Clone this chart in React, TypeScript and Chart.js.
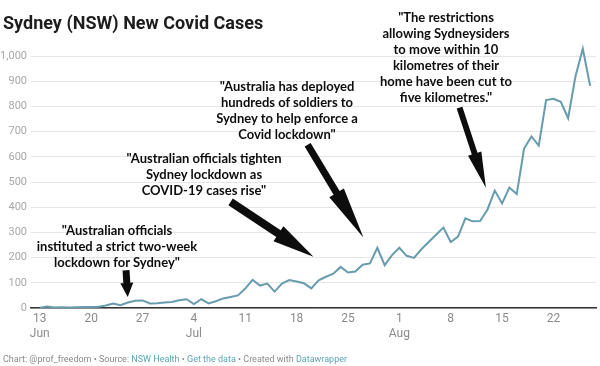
import React, { useEffect, useRef } from "react";
import { Chart, registerables } from "chart.js";

Chart.register(...registerables);

// Day 0 = 13 Jun 2021, one value per day up to 27 Aug
const firstDay = "2021-06-13";
const cases = [
  1, 6, 2, 3, 2, 3, 4, 4, 5, 10, 18, 11, 22, 29, 30, 18, 19, 22,
  24, 31, 35, 16, 35, 18, 27, 38, 44, 50, 77, 112, 89, 97, 65, 97, 111, 105,
  98, 78, 110, 124, 136, 163, 141, 145, 172, 177, 239, 170, 210,
  239, 207, 199, 233, 262, 291, 319, 262, 283, 356, 344, 345, 390, 466, 415,
  478, 452, 633, 681, 644, 825, 830, 818, 753, 919, 1029, 882,
];

const xTickDays = [0, 7, 14, 21, 28, 35, 42, 49, 56, 63, 70];
const xTickDayLabels = ["13", "20", "27", "4", "11", "18", "25", "1", "8", "15", "22"];
const xTickMonthLabels = ["Jun", "", "", "Jul", "", "", "", "Aug", "", "", ""];
const yTickValues = [0, 100, 200, 300, 400, 500, 600, 700, 800, 900, 1000];

const annotationTexts = [
  ['"Australian officials', "instituted a strict two-week", 'lockdown for Sydney"'],
  ['"Australian officials tighten', "Sydney lockdown as", 'COVID-19 cases rise"'],
  ['"Australia has deployed', "hundreds of soldiers to", "Sydney to help enforce a", 'Covid lockdown"'],
  ['"The restrictions', "allowing Sydneysiders", "to move within 10", "kilometres of their", "home have been cut to", 'five kilometres."'],
];
// anchor positions of the annotation blocks (centre x, top y) in pixels
const annotationPos = [
  [117, 222],
  [204, 150],
  [287, 78],
  [446, 9],
];
// arrows: tail and tip in (day, cases) chart coordinates
const arrowTails = [[11.75, 150], [26.0, 421], [36.5, 648], [57.2, 795]];
const arrowTips = [[11.98, 44], [37.3, 203], [44.1, 280], [60.8, 477]];
const arrowShaft = [7, 8, 7, 6];
const arrowHead = [13, 18, 17, 14];
const arrowHeadLen = [14, 42, 52, 36];

const arrowPlugin = {
  id: "arrows",
  afterDatasetsDraw(chart: any) {
    const { ctx, scales } = chart;
    const xs = scales.x;
    const ys = scales.y;
    ctx.save();
    ctx.fillStyle = "#0d0d0d";
    arrowTails.forEach((tail, i) => {
      const x0 = xs.getPixelForValue(tail[0]);
      const y0 = ys.getPixelForValue(tail[1]);
      const x1 = xs.getPixelForValue(arrowTips[i][0]);
      const y1 = ys.getPixelForValue(arrowTips[i][1]);
      const dx = x1 - x0;
      const dy = y1 - y0;
      const L = Math.hypot(dx, dy);
      const ux = dx / L;
      const uy = dy / L;
      const nx = -uy;
      const ny = ux;
      const hb = L - arrowHeadLen[i];
      const s = arrowShaft[i] / 2;
      const h = arrowHead[i] / 2;
      const bx = x0 + ux * hb;
      const by = y0 + uy * hb;
      ctx.beginPath();
      ctx.moveTo(x0 + nx * s, y0 + ny * s);
      ctx.lineTo(bx + nx * s, by + ny * s);
      ctx.lineTo(bx + nx * h, by + ny * h);
      ctx.lineTo(x1, y1);
      ctx.lineTo(bx - nx * h, by - ny * h);
      ctx.lineTo(bx - nx * s, by - ny * s);
      ctx.lineTo(x0 - nx * s, y0 - ny * s);
      ctx.closePath();
      ctx.fill();
    });
    ctx.restore();
  },
};

export default function App() {
  const canvasRef = useRef<HTMLCanvasElement | null>(null);

  useEffect(() => {
    document.body.style.margin = "0";
    const canvas = canvasRef.current;
    if (!canvas) return;
    const chart = new Chart(canvas, {
      type: "line",
      data: {
        datasets: [
          {
            label: "New cases from " + firstDay,
            data: cases.map((v, i) => ({ x: i, y: v })),
            borderColor: "#679cae",
            borderWidth: 2,
            pointRadius: 0,
            tension: 0,
            fill: false,
            clip: false as any,
          },
        ],
      },
      options: {
        animation: false,
        responsive: false,
        layout: { padding: { top: 56, left: 0, right: 4, bottom: 0 } },
        plugins: {
          legend: { display: false },
          tooltip: { enabled: false },
          title: { display: false },
        },
        scales: {
          x: {
            type: "linear",
            min: -1.2,
            max: 75.8,
            afterFit: (scale: any) => {
              scale.height = 58;
            },
            afterBuildTicks: (scale: any) => {
              scale.ticks = xTickDays.map((v) => ({ value: v }));
            },
            ticks: {
              autoSkip: false,
              maxRotation: 0,
              padding: 4,
              color: "#8a8a8a",
              font: { family: "Roboto", size: 12, lineHeight: 1.2 },
              callback: (value: any) => {
                const idx = xTickDays.indexOf(Number(value));
                if (idx < 0) return "";
                return xTickMonthLabels[idx]
                  ? [xTickDayLabels[idx], xTickMonthLabels[idx]]
                  : xTickDayLabels[idx];
              },
            },
            grid: { display: false, drawTicks: false },
            border: { display: true, color: "#333333", width: 1.5 },
          },
          y: {
            type: "linear",
            min: 0,
            max: 1000,
            afterFit: (scale: any) => {
              scale.width = 31;
            },
            afterBuildTicks: (scale: any) => {
              scale.ticks = yTickValues.map((v) => ({ value: v }));
            },
            ticks: {
              padding: 4,
              color: "#a8a8a8",
              font: { family: "Roboto", size: 11 },
              callback: (value: any) => Number(value).toLocaleString("en-US"),
            },
            grid: { color: "#e6e6e6", lineWidth: 1, drawTicks: false },
            border: { display: false },
          },
        },
      },
      plugins: [arrowPlugin],
    });
    return () => chart.destroy();
  }, []);

  return (
    <div
      style={{
        position: "relative",
        width: 600,
        height: 366,
        background: "#ffffff",
        overflow: "hidden",
        fontFamily: "Roboto, sans-serif",
      }}
    >
      <canvas ref={canvasRef} width={600} height={366} style={{ position: "absolute", left: 0, top: 0 }} />
      <div
        style={{
          position: "absolute",
          left: 3,
          top: 14,
          fontSize: 18,
          lineHeight: "18px",
          fontWeight: 700,
          color: "#1d1d1d",
          whiteSpace: "nowrap",
        }}
      >
        Sydney (NSW) New Covid Cases
      </div>
      {annotationTexts.map((lines, i) => (
        <div
          key={i}
          style={{
            position: "absolute",
            left: annotationPos[i][0] - 110,
            top: annotationPos[i][1],
            width: 220,
            textAlign: "center",
            fontFamily: "Lato, sans-serif",
            fontWeight: 700,
            fontSize: 13,
            lineHeight: "16px",
            color: "#0d0d0d",
          }}
        >
          {lines.map((l, j) => (
            <div key={j}>{l}</div>
          ))}
        </div>
      ))}
      <div
        style={{
          position: "absolute",
          left: 3,
          top: 355,
          fontSize: 9,
          lineHeight: "9px",
          color: "#8a8a8a",
          whiteSpace: "nowrap",
        }}
      >
        Chart: @prof_freedom • Source: <span style={{ color: "#5aa5b5" }}>NSW Health</span> •{" "}
        <span style={{ color: "#5aa5b5" }}>Get the data</span> • Created with{" "}
        <span style={{ color: "#5aa5b5" }}>Datawrapper</span>
      </div>
    </div>
  );
}
